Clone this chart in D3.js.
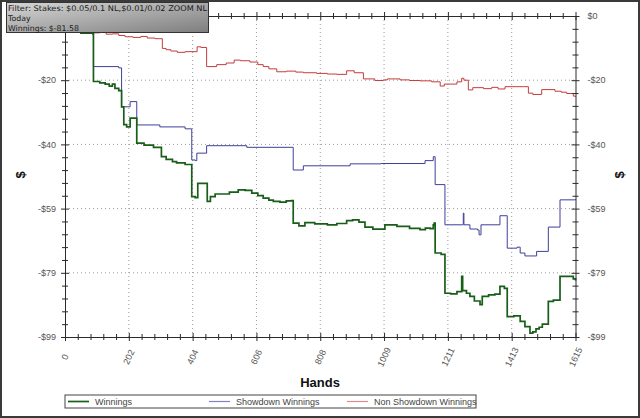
<!DOCTYPE html>
<html>
<head>
<meta charset="utf-8">
<script src="https://cdn.jsdelivr.net/npm/d3@7"></script>
<style>
	body { margin: 0; background: #fff; }
	svg { display: block; }
</style>
</head>
<body>
<svg id="chart" width="640" height="418"></svg>
<script>
// [hand, dollars]
let winnings = [
	[0, 0], [8, -3], [15, -4.5], [25, -5], [50, -5.3], [88, -5.5], [90, -20.2], [110, -20.6],
	[127, -21.0], [140, -21.6], [150, -21.0], [158, -22.3], [170, -23.0], [179, -28.0], [186, -33.5],
	[195, -34.2], [206, -31.5], [227, -39.2], [250, -39.8], [280, -40.5], [305, -43.4], [320, -44.2],
	[340, -44.9], [353, -45.3], [380, -45.8], [401, -55.7], [412, -56.0], [420, -51.6], [450, -57.2],
	[460, -55.7], [475, -54.9], [500, -54.9], [520, -54.3], [548, -53.6], [570, -53.8], [591, -54.6],
	[610, -55.4], [627, -56.2], [645, -56.8], [659, -57.2], [680, -57.4], [700, -57.0], [717, -56.9],
	[722, -63.9], [740, -64.7], [759, -63.7], [790, -64.1], [830, -64.4], [860, -64.0], [891, -63.1],
	[910, -62.9], [930, -63.6], [949, -65.1], [974, -65.7], [1006, -65.7], [1012, -64.4], [1050, -64.9],
	[1090, -65.5], [1123, -65.9], [1140, -65.4], [1155, -65.6], [1165, -64.4], [1168, -63.9], [1171, -73.1],
	[1190, -73.5], [1202, -85.5], [1220, -85.7], [1240, -85.0], [1255, -80.3], [1258, -84.7], [1270, -85.5],
	[1281, -86.5], [1295, -87.9], [1313, -89.0], [1320, -86.5], [1340, -86.0], [1360, -85.8], [1376, -83.4],
	[1390, -84.0], [1399, -92.7], [1420, -92.5], [1440, -94.2], [1455, -95.8], [1471, -97.8], [1480, -97.4],
	[1490, -96.5], [1500, -96.0], [1510, -95.0], [1529, -88.0], [1545, -87.6], [1566, -80.3], [1590, -80.3],
	[1608, -81.1], [1615, -81.58]
];

let showdown = [
	[0, 0], [88, 0], [90, -15.6], [170, -16.0], [179, -28.0], [206, -26.4], [227, -33.6], [300, -34.2],
	[380, -34.8], [401, -44.4], [412, -44.6], [417, -42.3], [448, -40.0], [575, -40.5], [722, -47.5],
	[754, -46.2], [902, -45.6], [1000, -45.5], [1139, -44.6], [1165, -43.4], [1171, -52.0], [1202, -64.4],
	[1258, -64.4], [1260, -60.8], [1262, -64.4], [1281, -65.7], [1305, -66.0], [1310, -67.5], [1316, -64.4],
	[1376, -61.6], [1399, -71.6], [1430, -71.3], [1440, -73.1], [1455, -74.0], [1492, -72.6], [1529, -65.1],
	[1566, -56.7], [1615, -56.5]
];

let nonShowdown = [
	[0, 0], [20, -2], [45, -3.5], [70, -4.5], [90, -5.2], [110, -5.0], [130, -5.6], [150, -5.5],
	[170, -6.0], [190, -6.4], [215, -6.6], [240, -6.3], [260, -6.8], [285, -7.0], [308, -10.0],
	[320, -10.4], [335, -10.8], [355, -11.2], [380, -11.0], [418, -9.5], [430, -9.7], [448, -15.6],
	[480, -15.0], [510, -14.5], [535, -13.6], [555, -13.8], [585, -14.2], [610, -15.0], [627, -15.6],
	[645, -16.3], [670, -17.2], [700, -17.0], [730, -17.3], [754, -17.5], [796, -17.7], [830, -17.9],
	[860, -18.0], [891, -16.9], [915, -17.5], [944, -19.4], [980, -19.9], [1007, -19.7], [1020, -19.4],
	[1060, -19.7], [1090, -19.9], [1123, -20.0], [1160, -20.3], [1187, -21.6], [1200, -21.0], [1240, -20.3],
	[1255, -19.2], [1262, -19.8], [1276, -22.8], [1290, -22.1], [1324, -22.4], [1350, -22.0], [1370, -22.5],
	[1392, -21.8], [1450, -21.8], [1466, -23.8], [1480, -24.2], [1508, -22.7], [1550, -23.2], [1570, -23.5],
	[1587, -23.9], [1608, -24.7], [1615, -24.9]
];

let xTicks = [0, 201.875, 403.75, 605.625, 807.5, 1009.375, 1211.25, 1413.125, 1615];
let xTickLabels = ["0", "202", "404", "606", "808", "1009", "1211", "1413", "1615"];
let yTicks = [0, -19.8, -39.6, -59.4, -79.2, -99];
let yTickLabels = ["$0", "-$20", "-$40", "-$59", "-$79", "-$99"];
let seriesNames = ["Winnings", "Showdown Winnings", "Non Showdown Winnings"];
let infoLines = ["Filter: Stakes: $0.05/0.1 NL,$0.01/0.02 ZOOM NL", "Today", "Winnings: $-81.58"];

let colours = ["#185e18", "#3f3f9a", "#c43c3c"];
let legendColours = ["#185e18", "#8080c4", "#e08a8a"];
let widths = [1.7, 1, 1];

function minorTicks(major, parts){
	let out = [];
	for (let i = 0; i < major.length - 1; i++){
		let step = (major[i + 1] - major[i]) / parts;
		for (let j = 1; j < parts; j++){ out.push(major[i] + step * j); }
	}
	return out;
}

// tick marks straddle the axis line
function crossTicks(g){
	g.selectAll(".tick line").each(function(){
		let l = d3.select(this);
		if (l.attr("y2") !== null && +l.attr("y2") !== 0){
			l.attr("y1", -(+l.attr("y2")));
		} else if (l.attr("x2") !== null){
			l.attr("x1", -(+l.attr("x2")));
		}
	});
}

function drawChart(holder){
	let margin = {"left": 65, "top": 16, "right": 64.5, "bottom": 81};
	let width = 640;
	let height = 418;
	let svg = d3.select(holder);

	let x = d3.scaleLinear().domain([0, 1615]).range([margin.left, width - margin.right]);
	let y = d3.scaleLinear().domain([-99, 0]).range([height - margin.bottom, margin.top]);

	svg.append("rect")
		.attr("x", 1).attr("y", 1).attr("width", width - 2).attr("height", height - 2)
		.attr("fill", "#fff").attr("stroke", "#3a3a3a").attr("stroke-width", 2);

	let grid = svg.append("g").attr("stroke", "#9a9a9a").attr("stroke-dasharray", "1,3");
	grid.selectAll("line.gx")
		.data(xTicks.slice(1, -1))
		.join("line")
		.attr("class", "gx")
		.attr("x1", d => x(d)).attr("x2", d => x(d))
		.attr("y1", y(0)).attr("y2", y(-99));
	grid.selectAll("line.gy")
		.data(yTicks.slice(1, -1))
		.join("line")
		.attr("class", "gy")
		.attr("x1", x(0)).attr("x2", x(1615))
		.attr("y1", d => y(d)).attr("y2", d => y(d));

	const line = d3.line()
		.curve(d3.curveStepAfter)
		.x(d => x(d[0]))
		.y(d => y(d[1]));

	svg.append("g")
		.attr("fill", "none")
		.selectAll("path")
		.data([nonShowdown, showdown, winnings])
		.join("path")
		.attr("stroke", (d, i) => colours[2 - i])
		.attr("stroke-width", (d, i) => widths[2 - i])
		.attr("d", d => line(d));

	let xMinor = minorTicks(xTicks, 5);
	let yMinor = minorTicks(yTicks, 5);
	let axisStyle = g => g
		.call(g => g.select(".domain").attr("stroke", "#2a2a2a"))
		.call(g => g.selectAll(".tick line").attr("stroke", "#2a2a2a"))
		.call(g => g.selectAll(".tick text").remove());

	let sides = [
		{"axis": d3.axisBottom(x), "t": `translate(0,${y(-99)})`, "major": xTicks, "minor": xMinor},
		{"axis": d3.axisTop(x), "t": `translate(0,${y(0)})`, "major": xTicks, "minor": xMinor},
		{"axis": d3.axisLeft(y), "t": `translate(${x(0)},0)`, "major": yTicks, "minor": yMinor},
		{"axis": d3.axisRight(y), "t": `translate(${x(1615)},0)`, "major": yTicks, "minor": yMinor}
	];
	sides.forEach(function(s){
		let g = svg.append("g").attr("transform", s.t);
		g.call(s.axis.tickValues(s.major).tickSize(4).tickSizeOuter(0)).call(axisStyle);
		let m = svg.append("g").attr("transform", s.t);
		m.call(s.axis.tickValues(s.minor).tickSize(3).tickSizeOuter(0)).call(axisStyle);
		m.select(".domain").remove();
		crossTicks(g);
		crossTicks(m);
	});

	let labelFont = "Liberation Sans, Arial, sans-serif";
	svg.append("g").selectAll("text")
		.data(yTicks)
		.join("text")
		.attr("x", x(0) - 9)
		.attr("y", d => y(d))
		.attr("dy", "0.35em")
		.attr("text-anchor", "end")
		.attr("font-family", labelFont).attr("font-size", 9).attr("fill", "#555")
		.text((d, i) => yTickLabels[i]);
	svg.append("g").selectAll("text")
		.data(yTicks)
		.join("text")
		.attr("x", x(1615) + 12)
		.attr("y", d => y(d))
		.attr("dy", "0.35em")
		.attr("text-anchor", "start")
		.attr("font-family", labelFont).attr("font-size", 9).attr("fill", "#555")
		.text((d, i) => yTickLabels[i]);
	svg.append("g").selectAll("text")
		.data(xTicks)
		.join("text")
		.attr("transform", d => `translate(${x(d)},357) rotate(-65)`)
		.attr("dy", "0.35em")
		.attr("text-anchor", "middle")
		.attr("font-family", labelFont).attr("font-size", 9).attr("fill", "#555")
		.text((d, i) => xTickLabels[i]);

	svg.append("text")
		.attr("x", width / 2).attr("y", 387)
		.attr("text-anchor", "middle")
		.attr("font-family", labelFont).attr("font-size", 13).attr("font-weight", "bold").attr("fill", "#111")
		.text("Hands");
	[20, 619].forEach(function(px){
		svg.append("text")
			.attr("transform", `translate(${px},175) rotate(-90)`)
			.attr("dy", "0.35em")
			.attr("text-anchor", "middle")
			.attr("font-family", labelFont).attr("font-size", 13).attr("font-weight", "bold").attr("fill", "#111")
			.text("$");
	});

	drawLegend(svg.append("g").attr("transform", "translate(65,395)"), labelFont);
	drawInfoBox(svg);
}

function drawLegend(g, font){
	let itemX = [0, 141, 279];
	g.append("rect")
		.attr("width", 411).attr("height", 13)
		.attr("fill", "#fff").attr("stroke", "#444").attr("stroke-width", 1);
	let items = g.selectAll("g.item")
		.data(seriesNames)
		.join("g")
		.attr("class", "item")
		.attr("transform", (d, i) => `translate(${itemX[i]},0)`);
	items.append("line")
		.attr("x1", 3).attr("x2", 24).attr("y1", 6.5).attr("y2", 6.5)
		.attr("stroke", (d, i) => legendColours[i])
		.attr("stroke-width", (d, i) => i === 0 ? 1.7 : 1.2);
	items.append("text")
		.attr("x", 30).attr("y", 6.5).attr("dy", "0.35em")
		.attr("font-family", font).attr("font-size", 9).attr("fill", "#444")
		.text(d => d);
}

function drawInfoBox(svg){
	let grad = svg.append("defs").append("linearGradient")
		.attr("id", "infoGrad").attr("x1", "0").attr("y1", "0").attr("x2", "1").attr("y2", "1");
	grad.append("stop").attr("offset", "0%").attr("stop-color", "#d6d6d6");
	grad.append("stop").attr("offset", "100%").attr("stop-color", "#7e7e7e");
	svg.append("rect")
		.attr("x", 6.5).attr("y", 2.5).attr("width", 202).attr("height", 30)
		.attr("fill", "url(#infoGrad)").attr("stroke", "#333");
	svg.append("g").selectAll("text")
		.data(infoLines)
		.join("text")
		.attr("x", 8)
		.attr("y", (d, i) => 10.5 + i * 10)
		.attr("font-family", "DejaVu Sans, Verdana, sans-serif")
		.attr("font-size", 7.8)
		.attr("fill", "#1a1a1a")
		.attr("textLength", (d, i) => i === 0 ? 199 : null)
		.attr("lengthAdjust", "spacingAndGlyphs")
		.text(d => d);
}

drawChart("#chart");
</script>
</body>
</html>
